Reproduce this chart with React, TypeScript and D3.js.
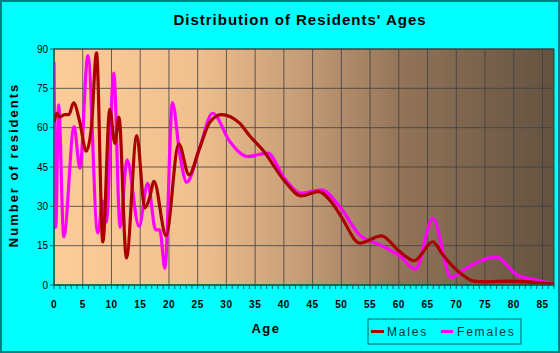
import React from "react";
import * as d3 from "d3";

const maleAges = [0, 0.5, 1, 1.8, 2.6, 3.4, 4.5, 5.6, 6.5, 7.4, 8.5, 9.7, 10.6, 11.3, 12.6, 14.4, 15.8, 16.6, 17.4, 19.5, 21.7, 23.5, 25.3, 27.1, 29.1, 32.3, 34, 36.5, 40, 43, 46, 48.5, 50, 53.2, 57, 60, 62.7, 65.9, 67.5, 69, 71, 73, 75, 79, 82, 85, 87];
const maleValues = [62, 65.5, 64, 65, 65, 69.5, 62, 51, 60, 88.5, 16.4, 67, 54, 64, 10.3, 57, 29.4, 33, 39.5, 18.8, 53.8, 42, 52, 62, 65, 61.7, 57, 51, 40, 34, 35.6, 31, 26, 16, 18.7, 13, 9.3, 16.5, 12, 8, 4, 1.5, 1.2, 1.5, 1.3, 0.8, 0.4];

const femaleAges = [0, 0.3, 0.8, 1.7, 3.5, 4.5, 5.9, 7.6, 8.5, 9.1, 10.4, 11.5, 12.7, 14.8, 16.3, 17.7, 18.4, 19.3, 20.6, 21.9, 23.1, 25.3, 27.6, 30.6, 33.7, 37.2, 40, 43, 46.5, 49.7, 53.2, 56.7, 60.2, 62.9, 65.9, 69.1, 71.7, 76.9, 80.6, 83.9, 87];
const femaleValues = [85, 22, 68.7, 18.4, 60.4, 44.6, 87.5, 19.8, 32, 24, 80.8, 22, 47.7, 22.3, 38.8, 21, 21, 6.4, 69.6, 49.6, 39.2, 52, 65.5, 54.7, 49, 50.3, 41, 35, 36.3, 30, 19, 15.3, 11, 6, 25.4, 2.9, 6.4, 10.6, 3.8, 1.9, 0.5];

const xTicks = d3.range(0, 90, 5);
const yTicks = [0, 15, 30, 45, 60, 75, 90];

const W = 560;
const H = 353;
const left = 54;
const right = 554;
const top = 49;
const bottom = 285;

export default function App() {
  const x = d3.scaleLinear().domain([0, 87]).range([left, right]);
  const y = d3.scaleLinear().domain([0, 90]).range([bottom, top]);

  const line = d3
    .line<[number, number]>()
    .x((d) => x(d[0]))
    .y((d) => y(d[1]))
    .curve(d3.curveMonotoneX);

  const males = maleAges.map((a, i) => [a, maleValues[i]] as [number, number]);
  const females = femaleAges.map((a, i) => [a, femaleValues[i]] as [number, number]);

  const minor = d3.range(0, 88, 1);
  const font = "'Liberation Sans', Arial, sans-serif";

  return (
    <svg width={W} height={H} style={{ position: "absolute", left: 0, top: 0 }}>
      <defs>
        <linearGradient id="bg" x1="0" x2="1" y1="0" y2="0">
          <stop offset="0%" stopColor="#fdcc99" />
          <stop offset="28%" stopColor="#f0c08e" />
          <stop offset="48%" stopColor="#c99f78" />
          <stop offset="70%" stopColor="#927358" />
          <stop offset="100%" stopColor="#635240" />
        </linearGradient>
        <clipPath id="plot">
          <rect x={left} y={top - 3} width={right - left} height={bottom - top + 3} />
        </clipPath>
      </defs>
      <rect x={1} y={1} width={W - 2} height={H - 2} fill="#00ffff" stroke="#008080" strokeWidth={2} />
      <text x={300} y={25} textAnchor="middle" fontFamily={font} fontWeight="bold" fontSize={15} letterSpacing={1} fill="#000">
        Distribution of Residents' Ages
      </text>

      <rect x={left} y={top} width={right - left} height={bottom - top} fill="url(#bg)" />

      {xTicks.map((t) => (
        <line key={"gx" + t} x1={x(t)} x2={x(t)} y1={top} y2={bottom} stroke="#404040" strokeOpacity={0.8} strokeWidth={1} />
      ))}
      {yTicks.map((t) => (
        <line key={"gy" + t} x1={left} x2={right} y1={y(t)} y2={y(t)} stroke="#404040" strokeOpacity={0.8} strokeWidth={1} />
      ))}
      <rect x={left} y={top} width={right - left} height={bottom - top} fill="none" stroke="#3a3a3a" strokeWidth={1} />

      <g clipPath="url(#plot)">
        <path d={line(females) || ""} fill="none" stroke="#ff00ff" strokeWidth={3.2} strokeLinejoin="round" />
        <path d={line(males) || ""} fill="none" stroke="#aa0000" strokeWidth={3.2} strokeLinejoin="round" />
      </g>

      <line x1={left} x2={left} y1={top} y2={bottom} stroke="#006060" strokeWidth={1} />
      <line x1={left} x2={right} y1={bottom} y2={bottom} stroke="#006060" strokeWidth={1} />
      {minor.map((t) => (
        <line key={"mt" + t} x1={x(t)} x2={x(t)} y1={bottom} y2={bottom + 4} stroke="#006060" strokeWidth={1} />
      ))}
      {yTicks.map((t) => (
        <g key={"yt" + t}>
          <line x1={left - 4} x2={left} y1={y(t)} y2={y(t)} stroke="#006060" strokeWidth={1} />
          <text x={left - 6} y={y(t) + 3.5} textAnchor="end" fontFamily={font} fontSize={10} fill="#000">
            {t}
          </text>
        </g>
      ))}
      {xTicks.map((t) => (
        <text key={"xt" + t} x={x(t)} y={308} textAnchor="middle" fontFamily={font} fontSize={10} fontWeight="bold" fill="#000" letterSpacing={0.5}>
          {t}
        </text>
      ))}

      <text x={266} y={333} textAnchor="middle" fontFamily={font} fontWeight="bold" fontSize={13} letterSpacing={1.5} fill="#000">
        Age
      </text>
      <text transform={`translate(18,${(top + bottom) / 2 - 2}) rotate(-90)`} textAnchor="middle" fontFamily={font} fontWeight="bold" fontSize={13} letterSpacing={2} fill="#000">
        Number of residents
      </text>

      <rect x={368} y={319} width={153} height={25} fill="none" stroke="#006060" strokeWidth={1} />
      <line x1={371} x2={384} y1={331.5} y2={331.5} stroke="#aa0000" strokeWidth={3} />
      <text x={387} y={336} fontFamily={font} fontSize={12} letterSpacing={1.8} fill="#003333">
        Males
      </text>
      <line x1={441} x2={453} y1={331.5} y2={331.5} stroke="#ff00ff" strokeWidth={3} />
      <text x={457} y={336} fontFamily={font} fontSize={12} letterSpacing={1.8} fill="#003333">
        Females
      </text>
    </svg>
  );
}
